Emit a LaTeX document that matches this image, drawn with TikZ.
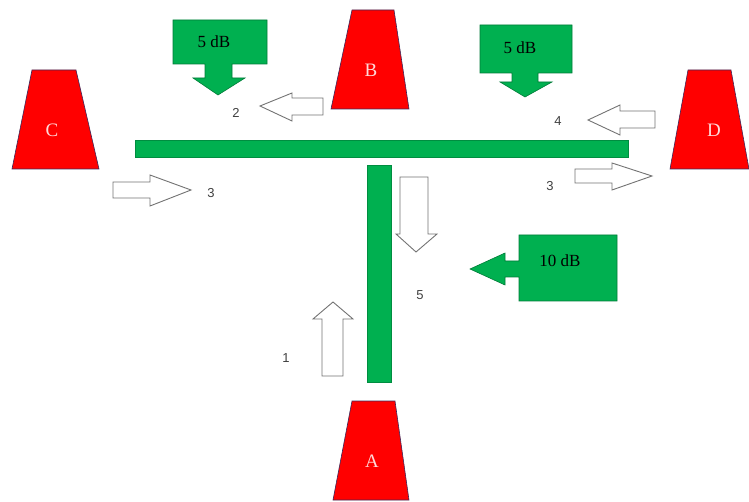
\documentclass[tikz,border=0pt]{standalone}
\usepackage{fontspec}
\setmainfont{Liberation Serif}
\newfontfamily\numfont{Liberation Sans}
\definecolor{offgreen}{RGB}{0,176,80}
\definecolor{trapred}{RGB}{255,0,0}
\definecolor{trapedge}{RGB}{60,40,90}
\begin{document}
\begin{tikzpicture}[x=1pt,y=-1pt,
  trap/.style={fill=trapred,draw=trapedge,line width=0.6pt},
  trapletter/.style={text=white!85!red,font=\fontsize{19}{19}\selectfont},
  bar/.style={fill=offgreen,draw=offgreen!80!black,line width=0.4pt},
  callout/.style={fill=offgreen,draw=offgreen!70!black,line width=0.6pt},
  calltext/.style={font=\fontsize{17}{17}\selectfont,text=black},
  hollow/.style={fill=white,draw=black!55,line width=0.9pt,line join=miter},
  numlabel/.style={font=\numfont\fontsize{13}{13}\selectfont,text=black!75}]
\useasboundingbox (0,0) rectangle (749,502);
% trapezoids
\draw[trap] (352,10) -- (394,10) -- (409,109) -- (331,109) -- cycle;
\node[trapletter] (B) at (371,70) {B};
\draw[trap] (32,70) -- (76,70) -- (99,169) -- (12,169) -- cycle;
\node[trapletter] (C) at (52,130) {C};
\draw[trap] (688,70) -- (731,70) -- (749,169) -- (670,169) -- cycle;
\node[trapletter] (D) at (714,130) {D};
\draw[trap] (352,401) -- (395,401) -- (409,500) -- (333,500) -- cycle;
\node[trapletter] (A) at (372,461) {A};
% green bars
\fill[bar] (135,140) rectangle (628,157);
\fill[bar] (367,165) rectangle (391,382);
% green callouts
\draw[callout] (173,20) -- (267,20) -- (267,64) -- (232,64) -- (232,78) -- (245,78)
  -- (218,95) -- (193,78) -- (205,78) -- (205,64) -- (173,64) -- cycle;
\node[calltext] (c1) at (214,42) {5 dB};
\draw[callout] (480,25) -- (572,25) -- (572,73) -- (538,73) -- (538,82) -- (552,82)
  -- (525,97) -- (500,82) -- (512,82) -- (512,73) -- (480,73) -- cycle;
\node[calltext] (c2) at (520,48) {5 dB};
\draw[callout] (519,235) -- (617,235) -- (617,301) -- (519,301) -- (519,277) -- (505,277)
  -- (505,285) -- (470,269) -- (505,253) -- (505,261) -- (519,261) -- cycle;
\node[calltext] (c3) at (560,261) {10 dB};
% hollow arrows
% 2 : left
\draw[hollow] (323,98) -- (292,98) -- (292,93) -- (260,106) -- (292,121) -- (292,115) -- (323,115) -- cycle;
\node[numlabel] (n2) at (236,113) {2};
% 4 : left
\draw[hollow] (655,111) -- (620,111) -- (620,105) -- (588,120) -- (620,135) -- (620,128) -- (655,128) -- cycle;
\node[numlabel] (n4) at (558,121) {4};
% 3 right side : right
\draw[hollow] (575,169) -- (612,169) -- (612,163) -- (652,176) -- (612,190) -- (612,183) -- (575,183) -- cycle;
\node[numlabel] (n3b) at (550,186) {3};
% 3 left side : right
\draw[hollow] (113,182) -- (150,182) -- (150,175) -- (191,190) -- (150,206) -- (150,198) -- (113,198) -- cycle;
\node[numlabel] (n3a) at (211,193) {3};
% 1 : up
\draw[hollow] (322,376) -- (322,319) -- (313,319) -- (333,302) -- (353,319) -- (343,319) -- (343,376) -- cycle;
\node[numlabel] (n1) at (286,358) {1};
% down arrow (5)
\draw[hollow] (400,177) -- (428,177) -- (428,234) -- (437,234) -- (416,252) -- (396,234) -- (400,234) -- cycle;
\node[numlabel] (n5) at (420,295) {5};
\end{tikzpicture}
\end{document}
